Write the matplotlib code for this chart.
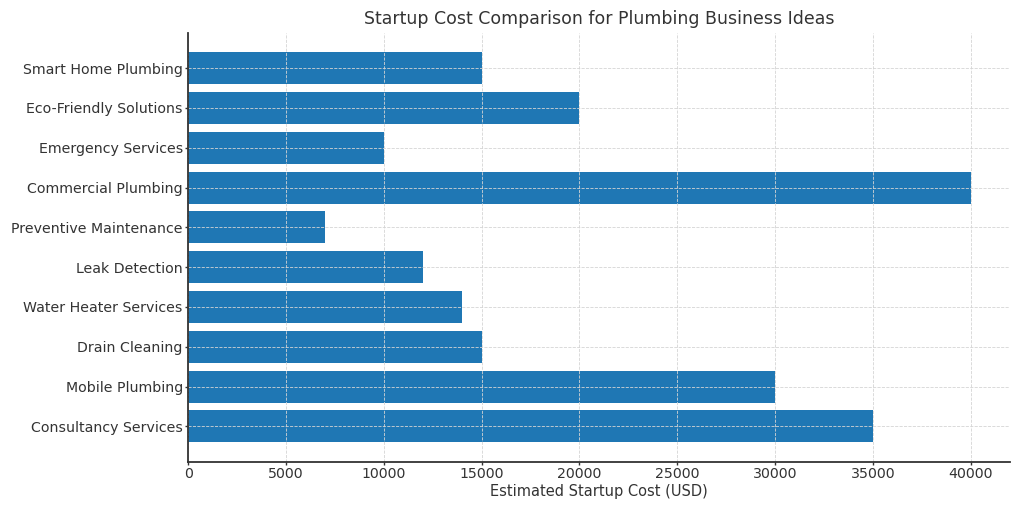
import matplotlib.pyplot as plt

ideas = ['Smart Home Plumbing', 'Eco-Friendly Solutions', 'Emergency Services',
         'Commercial Plumbing', 'Preventive Maintenance', 'Leak Detection',
         'Water Heater Services', 'Drain Cleaning', 'Mobile Plumbing',
         'Consultancy Services']
costs = [15000, 20000, 10000, 40000, 7000, 12000, 14000, 15000, 30000, 35000]

text_color = '#333333'
plt.rcParams['text.color'] = text_color
plt.rcParams['axes.labelcolor'] = text_color
plt.rcParams['xtick.color'] = text_color
plt.rcParams['ytick.color'] = text_color

fig, ax = plt.subplots(figsize=(10.24, 5.12), dpi=100)
fig.subplots_adjust(left=0.184, right=0.986, top=0.936, bottom=0.098)

ax.barh(ideas, costs, color='#1f77b4', height=0.8)
ax.invert_yaxis()

ax.set_title('Startup Cost Comparison for Plumbing Business Ideas', fontsize=12.5, pad=6)
ax.set_xlabel('Estimated Startup Cost (USD)', fontsize=10.5, labelpad=2)
ax.tick_params(axis='both', labelsize=10.2, length=2, width=1, pad=2)

ax.grid(True, linestyle='--', color='#d4d4d4', linewidth=0.6)
ax.set_axisbelow(False)
ax.spines['top'].set_visible(False)
ax.spines['right'].set_visible(False)
for side in ('left', 'bottom'):
    ax.spines[side].set_color('#333333')
    ax.spines[side].set_linewidth(1.3)
    ax.spines[side].set_zorder(5)

plt.savefig('out.png')
